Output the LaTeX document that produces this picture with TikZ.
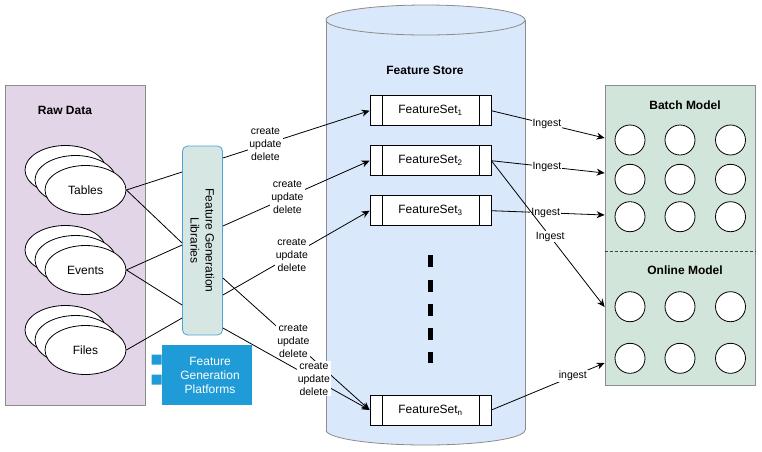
\documentclass[tikz,border=0pt]{standalone}
\usepackage{fontspec}
\setmainfont{Liberation Sans}
\usepackage{tikz}
\usetikzlibrary{
  shapes.geometric,
  arrows.meta,
  calc
}
\tikzset{
  every node/.style={font=\fontsize{11}{13}\selectfont},
}
\definecolor{rawData}{HTML}{E1D5E7}
\definecolor{featureStore}{HTML}{DAE8FC}
\definecolor{modelBox}{HTML}{D2E5DA}
\definecolor{library}{HTML}{D6E6E2}
\definecolor{libraryLine}{HTML}{4FA3DA}
\definecolor{platform}{HTML}{1F9BD7}
\colorlet{panelLine}{black!45}

\begin{document}
\begin{tikzpicture}[
  x=1pt, y=-1pt,
  line width=0.8pt,
  panel/.style={draw=panelLine},
  title/.style={font=\bfseries\fontsize{12}{14}\selectfont},
  source/.style={ellipse,draw,fill=white,minimum width=81pt,minimum height=49pt,inner sep=0pt,
    font=\fontsize{12}{14}\selectfont},
  featureset/.style={draw,fill=white,minimum width=121pt,minimum height=30pt,
    font=\fontsize{12}{14}\selectfont,
    path picture={
      \draw ([xshift=12pt]path picture bounding box.north west) -- ([xshift=12pt]path picture bounding box.south west);
      \draw ([xshift=-12pt]path picture bounding box.north east) -- ([xshift=-12pt]path picture bounding box.south east);
    }},
  slot/.style={circle,draw,fill=white,minimum size=30pt,inner sep=0pt},
  wire/.style={draw},
  link/.style={draw,-{Stealth[length=8pt,width=7pt]}},
  crud/.style={fill=white,inner sep=1pt,align=center,font=\fontsize{10.5}{13}\selectfont},
  ingest/.style={fill=white,inner sep=1pt,font=\fontsize{10.5}{12}\selectfont},
]
\useasboundingbox (0,0) rectangle (762,451);

% raw data
\node[panel,fill=rawData,minimum width=140pt,minimum height=320pt] (raw) at (75,245) {};
\node[title] (rawTitle) at (65,110) {Raw Data};
\foreach \name/\txt/\y in {tables/Tables/190,events/Events/270,files/Files/350} {
  \node[source] (\name-3) at (65.5,\y-20) {};
  \node[source] (\name-2) at (75.5,\y-10) {};
  \node[source] (\name) at (85.5,\y) {\txt};
}

% generation
\node[draw=libraryLine,fill=library,rounded corners=5pt,minimum width=40pt,minimum height=189pt,
  label={[rotate=-90,align=center,font=\fontsize{12}{15}\selectfont]center:Feature Generation\\Libraries}] (lib) at (202.5,240.5) {};
\node[fill=platform,text=white,align=center,minimum width=90pt,minimum height=60pt,
  font=\fontsize{12}{14}\selectfont] (platform) at (207,375) {\hspace*{6pt}Feature\\\hspace*{6pt}Generation\\\hspace*{6pt}Platforms};
\fill[platform] ($(platform.north west)+(-10,10)$) rectangle ($(platform.north west)+(0,20)$)
  ($(platform.north west)+(-10,30)$) rectangle ($(platform.north west)+(0,40)$);

% feature store
\fill[featureStore] (326,20) rectangle (525,430);
\begin{scope}
  \clip (320,430) rectangle (530,451);
  \filldraw[fill=featureStore,draw=panelLine] (425.5,430) ellipse [x radius=99.5,y radius=15];
\end{scope}
\draw[panelLine] (326,20) -- (326,430) (525,20) -- (525,430);
\filldraw[fill=featureStore,draw=panelLine] (425.5,20) ellipse [x radius=99.5,y radius=15];
\node[title] (storeTitle) at (425,70) {Feature Store};
\foreach \i/\y in {1/110.7,2/160.7,3/210.7}
  \node[featureset] (fs\i) at (430.5,\y) {FeatureSet\textsubscript{\i}};
\node[featureset] (fsn) at (430.5,410) {FeatureSet\textsubscript{n}};
\draw[line width=4.5pt,dash pattern=on 12pt off 12.2pt] ($(fs3.south)+(0,29.3)$) -- ($(fsn.north)+(0,-32)$);

% models
\node[panel,fill=modelBox,minimum width=150.7pt,minimum height=300pt] (model) at (680.35,235) {};
\draw[black!75,dash pattern=on 3pt off 2pt] (model.west |- 0,251) -- (model.east |- 0,251);
\node[title] (batchTitle) at (685,105) {Batch Model};
\node[title] (onlineTitle) at (685,270) {Online Model};
\foreach \c/\x in {1/630,2/680,3/730.5} {
  \foreach \r/\y in {1/140,2/179.3,3/216.7}
    \node[slot] (batch-\r-\c) at (\x,\y) {};
  \foreach \r/\y in {1/306.7,2/358.3}
    \node[slot] (online-\r-\c) at (\x,\y) {};
}

% connections
\draw[wire] (tables.east) -- (lib.west |- 0,172);
\draw[wire] (tables.east) -- (lib.west |- 0,243);
\draw[wire] (events.east) -- (lib.west |- 0,245);
\draw[wire] (events.east) -- (lib.west |- 0,305);
\draw[wire] (files.east) -- (lib.west |- 0,318);

\draw[link] (lib.east |- 0,158) -- node[crud,pos=.29] (crud1) {create\\update\\delete} (fs1.west);
\draw[link] (lib.east |- 0,226) -- node[crud,pos=.44] (crud2) {create\\update\\delete} (fs2.west);
\draw[link] (lib.east |- 0,295) -- node[crud,pos=.47] (crud3) {create\\update\\delete} (fs3.west);
\draw[link] (lib.east |- 0,278) -- node[crud,pos=.48] (crud4) {create\\update\\delete} (fsn.west);
\draw[link] (lib.east |- 0,328) -- node[crud,pos=.62] (crud5) {create\\update\\delete} (fsn.west);

\draw[link] (fs1.east) -- node[ingest,pos=.49] (ingest1) {Ingest} (model.west |- 0,138);
\draw[link] (fs2.east) -- node[ingest,pos=.49] (ingest2) {Ingest} (model.west |- 0,173);
\draw[link] (fs3.east) -- node[ingest,pos=.48] (ingest3) {Ingest} (model.west |- 0,215);
\draw[link] (fs2.east) -- node[ingest,pos=.52] (ingest4) {Ingest} (model.west |- 0,307);
\draw[link] (fsn.east) -- node[ingest,pos=.72] (ingest5) {ingest} (model.west |- 0,363);
\end{tikzpicture}
\end{document}
